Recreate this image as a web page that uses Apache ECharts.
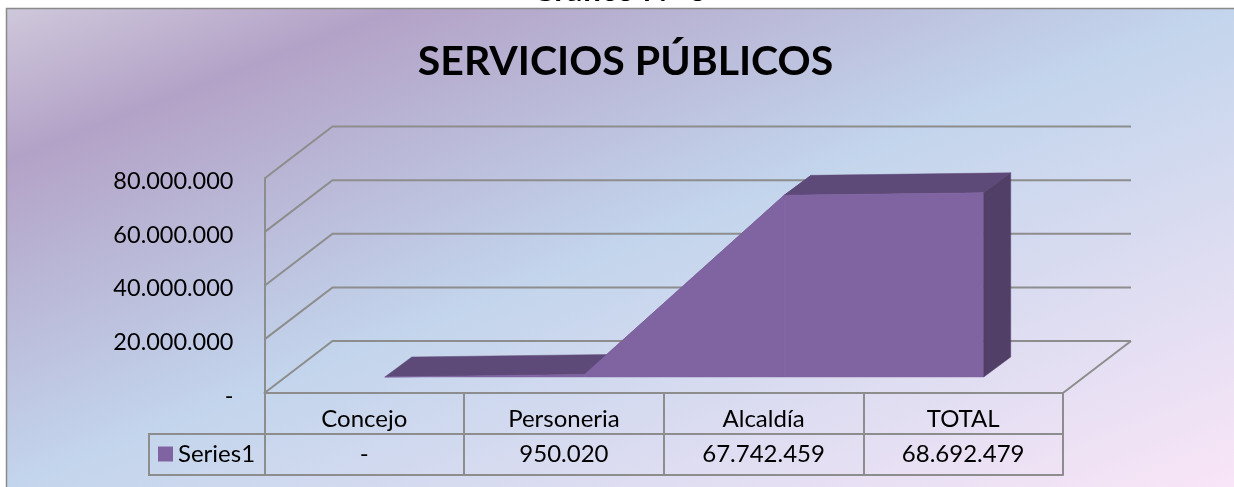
<!DOCTYPE html>
<html>
<head>
<meta charset="utf-8">
<style>html,body{margin:0;padding:0;background:#fff;overflow:hidden}#c{width:1234px;height:487px}</style>
<script src="https://cdn.jsdelivr.net/npm/echarts@6/dist/echarts.min.js"></script>
</head>
<body>
<div id="c"></div>
<script>
const categories = ['Concejo', 'Personeria', 'Alcaldía', 'TOTAL'];
const seriesName = 'Series1';
const values = [0, 950020, 67742459, 68692479];
const yTicks = [0, 20000000, 40000000, 60000000, 80000000];
const chartTitle = 'SERVICIOS PÚBLICOS';
const documentCaption = 'Gráfico N° 6';

const FONT = 'Lato, "Open Sans", sans-serif';
const LINE = '#8D8D8D';
const LW = 2;
const WALL = [68, -52];          // projection of the chart box depth
const NEAR = [20.5, -16];        // front face of the ribbon inside the box
const DEPTH = [27, -20];         // ribbon thickness
const fmt = v => v === 0 ? '-' : String(v).replace(/\B(?=(\d{3})+(?!\d))/g, '.');
const shift = (p, d) => [p[0] + d[0], p[1] + d[1]];

function renderBox(params, api) {
  const cs = params.coordSys;
  const kids = [];
  const ln = { stroke: LINE, lineWidth: LW, fill: null };
  yTicks.forEach(t => {
    const y = api.coord([0, t])[1];
    const a = [cs.x, y], b = shift(a, WALL), c = [cs.x + cs.width + WALL[0], y + WALL[1]];
    kids.push({ type: 'polyline', shape: { points: [a, b, c] }, style: ln });
  });
  const fr = [cs.x + cs.width, cs.y + cs.height];
  kids.push({ type: 'line', shape: { x1: fr[0], y1: fr[1], x2: fr[0] + WALL[0], y2: fr[1] + WALL[1] }, style: ln });
  // legend-key cell of the data table
  const top = cs.y + cs.height + 41, bot = cs.y + cs.height + 82, keyLeft = cs.x - 115.5;
  kids.push({ type: 'polyline', shape: { points: [[cs.x, top], [keyLeft, top], [keyLeft, bot], [cs.x, bot]] }, style: ln });
  return { type: 'group', children: kids };
}

function renderRibbon(params, api) {
  const i = params.dataIndex, kids = [];
  const p = idx => shift(api.coord([idx, values[idx]]), NEAR);
  const base = idx => shift(api.coord([idx, 0]), NEAR);
  if (i < values.length - 1) {
    const a = p(i), b = p(i + 1);
    kids.push({ type: 'polygon', shape: { points: [a, b, shift(b, DEPTH), shift(a, DEPTH)] },
      style: { fill: '#5E4A78', stroke: '#5E4A78', lineWidth: 0.5 } });
    kids.push({ type: 'polygon', shape: { points: [a, b, base(i + 1), base(i)] },
      style: { fill: '#8064A2', stroke: '#8064A2', lineWidth: 0.5 } });
  } else {
    const a = p(i), b = base(i);
    kids.push({ type: 'polygon', shape: { points: [a, shift(a, DEPTH), shift(b, DEPTH), b] },
      style: { fill: '#523F68', stroke: '#523F68', lineWidth: 0.5 } });
  }
  return { type: 'group', children: kids };
}

const chart = echarts.init(document.getElementById('c'), null, { renderer: 'canvas' });
chart.setOption({
  animation: false,
  backgroundColor: '#ffffff',
  textStyle: { fontFamily: FONT },
  grid: { left: 264.5, top: 178.5, width: 798.5, height: 214.5, containLabel: false },
  legend: {
    left: 158, top: 442, padding: 0, itemWidth: 15, itemHeight: 15, icon: 'rect',
    data: [seriesName],
    textStyle: { fontFamily: FONT, fontSize: 24, color: '#000' }
  },
  xAxis: [
    { type: 'category', data: categories, position: 'bottom', boundaryGap: true,
      axisLine: { lineStyle: { color: LINE, width: LW } },
      axisTick: { show: true, alignWithLabel: false, length: 82, lineStyle: { color: LINE, width: LW } },
      axisLabel: { margin: 14, fontFamily: FONT, fontSize: 24, color: '#000', interval: 0 } },
    { type: 'category', data: values.map(fmt), position: 'bottom', offset: 41, boundaryGap: true,
      axisLine: { lineStyle: { color: LINE, width: LW } }, axisTick: { show: false },
      axisLabel: { margin: 8, fontFamily: FONT, fontSize: 24, color: '#000', interval: 0 } },
    { type: 'category', data: categories.map(() => ''), position: 'bottom', offset: 82, boundaryGap: true,
      axisLine: { lineStyle: { color: LINE, width: LW } }, axisTick: { show: false }, axisLabel: { show: false } }
  ],
  yAxis: {
    type: 'value', min: 0, max: 80000000, interval: 20000000,
    splitLine: { show: false }, axisTick: { show: false },
    axisLine: { show: true, lineStyle: { color: LINE, width: LW } },
    axisLabel: { margin: 31, verticalAlign: 'top', lineHeight: 6, fontFamily: FONT, fontSize: 23.5, color: '#000', formatter: fmt }
  },
  graphic: [
    { type: 'rect', z: -10, shape: { x: 6.5, y: 8.5, width: 1240, height: 490 },
      style: { stroke: '#8A8A8A', lineWidth: 1.5,
        fill: new echarts.graphic.LinearGradient(6, 8, 330, 840, [
          { offset: 0, color: '#CFC8DB' },
          { offset: 0.16, color: '#B3A2C7' },
          { offset: 0.5, color: '#C3D5EC' },
          { offset: 1, color: '#F9E5F7' }
        ], true) } },
    { type: 'text', z: 5, x: 619, y: 7,
      style: { text: documentCaption, fontFamily: FONT, fontWeight: 'bold', fontSize: 32, fill: '#000',
        align: 'center', verticalAlign: 'bottom' } },
    { type: 'text', z: 5, x: 625.5, y: 62,
      style: { text: chartTitle, fontFamily: FONT, fontWeight: 'bold', fontSize: 41, fill: '#000',
        align: 'center', verticalAlign: 'middle' } }
  ],
  series: [
    { type: 'custom', name: 'box', silent: true, z: 1, clip: false, renderItem: renderBox, data: [0], encode: { x: 0 } },
    { type: 'custom', name: seriesName, z: 3, clip: false, renderItem: renderRibbon,
      itemStyle: { color: '#8064A2' },
      data: values.map((v, i) => [i, v]), encode: { x: 0, y: 1 } }
  ]
});
</script>
</body>
</html>
